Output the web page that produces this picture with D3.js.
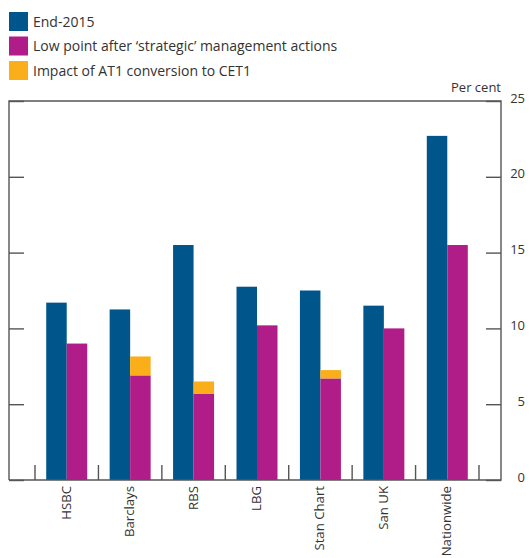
<!DOCTYPE html>
<html>
<head>
<meta charset="utf-8">
<script src="https://cdn.jsdelivr.net/npm/d3@7"></script>
<style>
  html, body { margin: 0; padding: 0; background: #fff; }
  svg { display: block; font-family: "Open Sans", "Noto Sans", sans-serif; }
</style>
</head>
<body>
<svg id="chart" width="530" height="558"></svg>
<script>
const categories = ["HSBC", "Barclays", "RBS", "LBG", "Stan Chart", "San UK", "Nationwide"];
const end2015 = [11.7, 11.25, 15.5, 12.75, 12.5, 11.5, 22.7];
const lowPoint = [9.0, 6.9, 5.7, 10.2, 6.7, 10.0, 15.5];
const at1Impact = [0, 1.25, 0.8, 0, 0.55, 0, 0];
const yTicks = [0, 5, 10, 15, 20, 25];
const legendLabels = ["End-2015", "Low point after \u2018strategic\u2019 management actions", "Impact of AT1 conversion to CET1"];
const unitLabel = "Per cent";

const colors = ["#00558b", "#b01c88", "#f9ae1a"];
const axisColor = "#555555";

const svg = d3.select("#chart");
const box = { left: 9, right: 501, top: 101, bottom: 480 };

const x = d3.scaleBand().domain(categories).range([35, 479]).padding(0);
const y = d3.scaleLinear().domain([0, 25]).range([box.bottom, box.top]);
const barW = 20.5;

// Bars
const g = svg.append("g");
categories.forEach((c, i) => {
  const cx = x(c) + x.bandwidth() / 2;
  g.append("rect")
    .attr("x", cx - barW).attr("width", barW)
    .attr("y", y(end2015[i])).attr("height", y(0) - y(end2015[i]))
    .attr("fill", colors[0]);
  g.append("rect")
    .attr("x", cx).attr("width", barW)
    .attr("y", y(lowPoint[i])).attr("height", y(0) - y(lowPoint[i]))
    .attr("fill", colors[1]);
  if (at1Impact[i] > 0) {
    g.append("rect")
      .attr("x", cx).attr("width", barW)
      .attr("y", y(lowPoint[i] + at1Impact[i]))
      .attr("height", y(lowPoint[i]) - y(lowPoint[i] + at1Impact[i]))
      .attr("fill", colors[2]);
  }
});

// Frame (top, left, right, bottom)
const frame = svg.append("g").attr("stroke", axisColor).attr("stroke-width", 1.4).attr("fill", "none");
frame.append("path").attr("d", `M${box.left},${box.bottom}V${box.top}H${box.right}V${box.bottom}H${box.left}`);

// Left axis ticks (inward)
const leftAxis = d3.axisRight(y).tickValues(yTicks).tickSize(15).tickFormat("");
const la = svg.append("g").attr("transform", `translate(${box.left},0)`).call(leftAxis);
la.select(".domain").remove();
la.selectAll("line").attr("stroke", axisColor).attr("stroke-width", 1.4);

// Right axis ticks (inward) with labels outside
const rightAxis = d3.axisLeft(y).tickValues(yTicks).tickSize(15).tickFormat("");
const ra = svg.append("g").attr("transform", `translate(${box.right},0)`).call(rightAxis);
ra.select(".domain").remove();
ra.selectAll("line").attr("stroke", axisColor).attr("stroke-width", 1.4);

svg.append("g").selectAll("text").data(yTicks).join("text")
  .attr("x", 525).attr("y", d => y(d) - 3).attr("dy", "0.35em")
  .attr("text-anchor", "end").attr("font-size", 13).attr("fill", "#333")
  .text(d => d);

svg.append("text").attr("x", 501).attr("y", 92)
  .attr("text-anchor", "end").attr("font-size", 13).attr("fill", "#333")
  .text(unitLabel);

// Category separator ticks
const seps = categories.map(c => x(c)).concat([x.range()[1]]);
svg.append("g").selectAll("line").data(seps).join("line")
  .attr("x1", d => d).attr("x2", d => d)
  .attr("y1", box.bottom).attr("y2", box.bottom - 15)
  .attr("stroke", axisColor).attr("stroke-width", 1.4);

// Category labels
svg.append("g").selectAll("text").data(categories).join("text")
  .attr("transform", d => `translate(${x(d) + x.bandwidth() / 2 + 4},486) rotate(-90)`)
  .attr("text-anchor", "end").attr("font-size", 13.2).attr("fill", "#333")
  .text(d => d);

// Legend
const lg = svg.append("g");
legendLabels.forEach((t, i) => {
  lg.append("rect").attr("x", 9).attr("y", 12 + i * 24.5).attr("width", 19).attr("height", 19).attr("fill", colors[i]);
  lg.append("text").attr("x", 33).attr("y", 26.5 + i * 24.5)
    .attr("font-size", 14).attr("fill", "#333").text(t);
});
</script>
</body>
</html>
